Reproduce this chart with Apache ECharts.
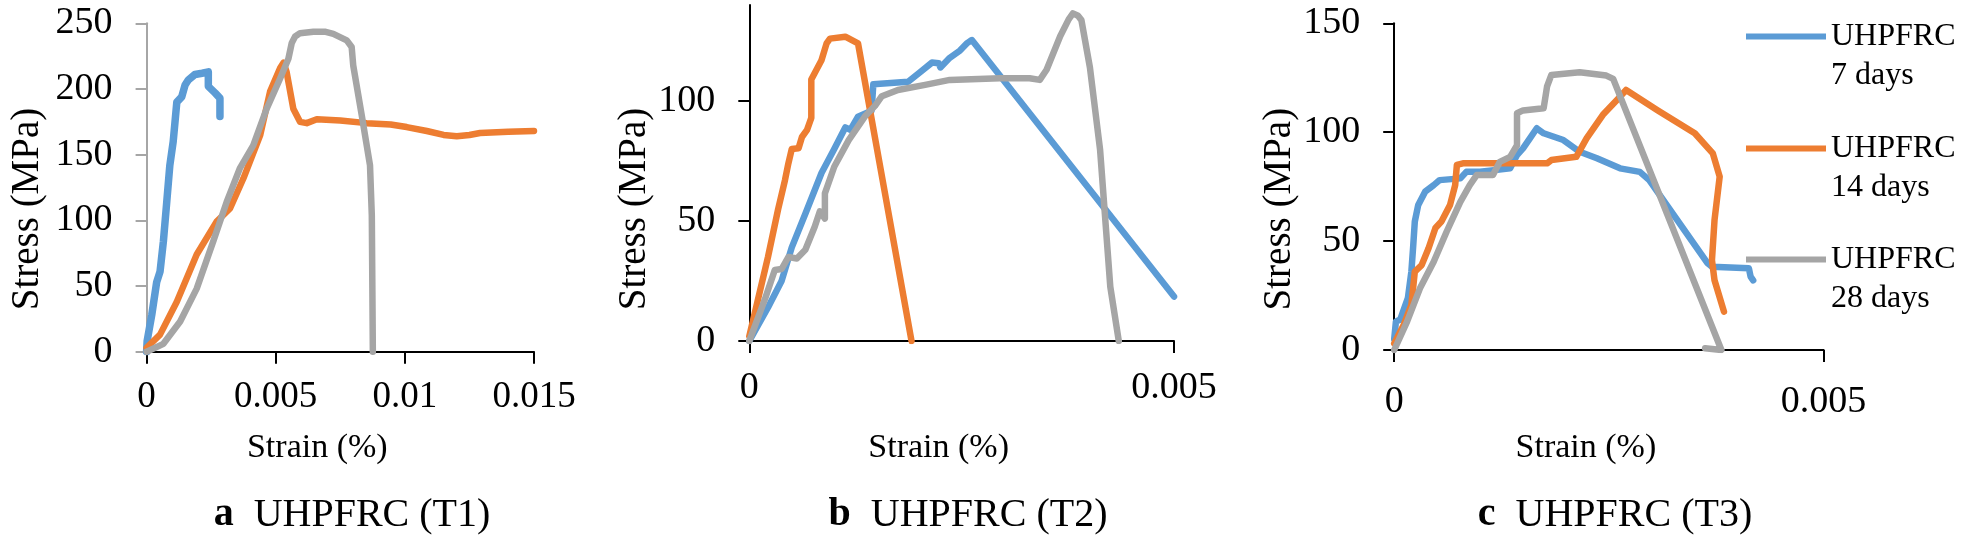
<!DOCTYPE html>
<html><head><meta charset="utf-8">
<script src="https://cdn.jsdelivr.net/npm/echarts@6/dist/echarts.min.js"></script>
<style>html,body{margin:0;padding:0;background:#fff}#c{width:1961px;height:545px}</style>
</head><body><div id="c"></div><script>
// ---------- data (strain %, stress MPa) ----------
const seriesNames = ['UHPFRC\n7 days', 'UHPFRC\n14 days', 'UHPFRC\n28 days'];
const panelCaptions = [['a', 'UHPFRC (T1)'], ['b', 'UHPFRC (T2)'], ['c', 'UHPFRC (T3)']];
const xTitle = 'Strain (%)';
const yTitle = 'Stress (MPa)';

const t1_7d = [[0,0],[0.00002,8],[0.0002,28],[0.00039,53],[0.00052,61],[0.00065,84],[0.00078,114],[0.0009,142],[0.00103,160],[0.0011,175],[0.00117,190],[0.00136,194],[0.00149,203],[0.00162,207],[0.00187,211],[0.00215,212],[0.00239,213],[0.00239,202],[0.00265,197],[0.00284,193],[0.00284,179]];
const t1_14d = [[0,3],[0.00052,13],[0.00117,38],[0.00194,74],[0.00271,99],[0.00323,109],[0.00375,132],[0.0044,165],[0.00478,198],[0.00517,216],[0.0053,220],[0.00542,213],[0.00568,185],[0.00594,175],[0.0062,174],[0.00659,177],[0.0075,176],[0.00852,174],[0.00945,173],[0.01007,171],[0.01085,168],[0.0115,165],[0.01201,164],[0.0125,165],[0.01291,166.5],[0.014,167.5],[0.015,168]];
const t1_28d = [[0,0],[0.00065,6],[0.0013,23],[0.00194,48],[0.00258,84],[0.0031,114],[0.00362,140],[0.00413,157],[0.00465,185],[0.00517,208],[0.00549,223],[0.00562,235],[0.00575,240],[0.00594,242.5],[0.00646,243.6],[0.0069,243.6],[0.00723,242],[0.00775,237],[0.00794,232],[0.008,218],[0.00833,180],[0.00865,142],[0.00872,104],[0.00876,0]];

const t2_7d = [[0,0],[0.00022,14],[0.00038,25],[0.0005,39],[0.00066,53],[0.00085,70],[0.001,80],[0.00113,89],[0.00119,88],[0.00128,93.5],[0.00144,96],[0.00146,107],[0.00187,108],[0.00201,112],[0.00215,116],[0.00223,115.7],[0.00225,114],[0.00236,118],[0.00248,121],[0.00256,124],[0.00262,125.4],[0.005,18.5]];
const t2_14d = [[0,2],[0.0001,17],[0.00022,35],[0.00034,55],[0.00042,67],[0.00046,74],[0.0005,80],[0.00058,80.3],[0.00062,85],[0.00068,88],[0.00073,93],[0.00073,109],[0.00085,117],[0.00091,124],[0.00095,126],[0.00113,126.8],[0.00128,124],[0.00191,0]];
const t2_28d = [[0,0],[0.00018,17],[0.0003,29.6],[0.00038,30],[0.00046,35],[0.00056,34.4],[0.00066,38],[0.00077,47.6],[0.00083,54],[0.00089,51],[0.00089,61.5],[0.001,72.6],[0.00117,83.7],[0.00136,93.5],[0.00148,98],[0.00156,102],[0.00175,104.6],[0.00207,106.7],[0.00236,108.8],[0.00295,109.5],[0.0033,109.5],[0.00342,108.8],[0.0035,113],[0.00366,127],[0.00376,134],[0.00381,136.5],[0.00387,135.5],[0.00391,133.7],[0.00401,114],[0.00413,79.6],[0.00425,22.6],[0.00435,0]];

const t3_7d = [[0,5],[0.00002,13],[0.00007,14],[0.00016,24],[0.0002,36],[0.00022,47],[0.00024,59],[0.00028,66.6],[0.00036,72.7],[0.00046,75.7],[0.00053,78],[0.00077,78.8],[0.00084,81.8],[0.001,81.8],[0.00135,83.4],[0.00143,89.5],[0.0015,92.6],[0.00158,97.2],[0.00166,101.8],[0.00174,99.5],[0.00197,96.4],[0.00216,91],[0.00236,88],[0.00263,83.4],[0.00286,81.8],[0.00297,78],[0.00365,39.8],[0.0037,38.2],[0.00413,37.5],[0.00415,33.7],[0.00418,32]];
const t3_14d = [[0,3],[0.00011,11.5],[0.0002,20.7],[0.00024,36],[0.00032,39],[0.0004,46.7],[0.00048,56],[0.00055,59],[0.00065,66.6],[0.00071,75.7],[0.00073,85],[0.0008,85.7],[0.00178,85.7],[0.00183,87.2],[0.00212,88.7],[0.00224,97.2],[0.00243,108],[0.00261,115.5],[0.0027,119.4],[0.00307,110],[0.0035,99.5],[0.00371,90.3],[0.00379,79.6],[0.00373,59.7],[0.0037,41.3],[0.00373,32],[0.00384,17.6]];
const t3_28d = [[0,0],[0.00015,13],[0.0003,28.3],[0.00046,40.5],[0.00061,54.3],[0.00077,68],[0.00088,75.7],[0.00096,80.3],[0.00115,80.3],[0.00123,86.4],[0.00135,88.7],[0.00143,94],[0.00143,108.7],[0.0015,110],[0.00174,111],[0.00178,121],[0.00183,126.3],[0.00216,127.5],[0.00247,126],[0.00255,124.5],[0.00381,0],[0.00362,0.8]];

const xMax = [0.015, 0.005, 0.005];
const xInterval = 0.005;
const yMax = [250, 140, 150];
const yInterval = 50;
const yTickValues = [[0,50,100,150,200,250],[0,50,100],[0,50,100,150]];

// ---------- layout / style ----------
const FONT = '"Liberation Serif", "Times New Roman", serif';
const COLORS = ['#5B9BD5', '#ED7D31', '#A5A5A5'];
const panelData = [[t1_7d, t1_14d, t1_28d], [t2_7d, t2_14d, t2_28d], [t3_7d, t3_14d, t3_28d]];

const grids = [
  {left: 146.6, top: 23.3, width: 387.4, height: 328.4},
  {left: 749.3, top: 5.0, width: 424.7, height: 336},
  {left: 1394.2, top: 23.3, width: 429.4, height: 326.7}
];
const yAxisColor = ['#A6A6A6', '#000', '#000'];
const xLabelMargin = [27, 28, 33];
const xLabelSize = [37, 38, 38];
const yLabelSize = [38, 38, 38];
const xNameGap = [79, 90, 81];
const yNameGap = [99, 83, 72];
const yNamePad = [43, 72, 45];
const captionX = [347, 963, 1610];

function fmt(v) { return String(+v.toFixed(4)); }

const xAxes = [], yAxes = [], series = [], titles = [];
for (let i = 0; i < 3; i++) {
  xAxes.push({
    type: 'value', gridIndex: i, min: 0, max: xMax[i], interval: xInterval,
    splitLine: {show: false},
    axisLine: {lineStyle: {color: '#000', width: 2}},
    axisTick: {inside: false, length: 12, lineStyle: {color: '#000', width: 2}},
    axisLabel: {formatter: fmt, margin: xLabelMargin[i], fontFamily: FONT, fontSize: xLabelSize[i], color: '#000',
      showMinLabel: true, showMaxLabel: true},
    name: xTitle, nameLocation: 'middle', nameGap: xNameGap[i],
    nameTextStyle: {fontFamily: FONT, fontSize: 34, color: '#000', padding: [0, 46, 0, 0]}
  });
  yAxes.push({
    type: 'value', gridIndex: i, min: 0, max: yMax[i], interval: yInterval,
    splitLine: {show: false},
    axisLine: {show: true, lineStyle: {color: yAxisColor[i], width: 2}},
    axisTick: {show: true, inside: false, length: 11, customValues: yTickValues[i], lineStyle: {color: yAxisColor[i], width: 2}},
    axisLabel: {margin: 34, fontFamily: FONT, fontSize: yLabelSize[i], color: '#000', customValues: yTickValues[i]},
    name: yTitle, nameLocation: 'middle', nameGap: yNameGap[i],
    nameTextStyle: {fontFamily: FONT, fontSize: 39, color: '#000', padding: [0, yNamePad[i], 0, 0]}
  });
  for (let s = 0; s < 3; s++) {
    series.push({
      type: 'line', name: seriesNames[s], xAxisIndex: i, yAxisIndex: i,
      data: panelData[i][s], showSymbol: false, symbol: 'none', smooth: false,
      color: COLORS[s],
      lineStyle: {color: COLORS[s], width: (i === 0 && s === 0) ? 7.5 : 6.5, cap: 'round', join: 'round'},
      animation: false
    });
  }
  titles.push({
    text: '{b|' + panelCaptions[i][0] + '}  ' + panelCaptions[i][1],
    left: captionX[i], top: 490, textAlign: 'center',
    textStyle: {fontFamily: FONT, fontSize: 40, fontWeight: 'normal', color: '#000',
      rich: {b: {fontFamily: FONT, fontSize: 40, fontWeight: 'bold', color: '#000'}}}
  });
}

const legendTops = [-22, 90, 201];
const legends = seriesNames.map((n, k) => ({
  data: [n], left: 1746, top: legendTops[k], orient: 'vertical',
  icon: 'rect', itemWidth: 80, itemHeight: 6, itemGap: 0, padding: 0,
  selectedMode: false,
  formatter: name => '\n' + name,
  textStyle: {fontFamily: FONT, fontSize: 32, color: '#000', lineHeight: 39}
}));

const chart = echarts.init(document.getElementById('c'), null, {renderer: 'canvas'});
chart.setOption({
  backgroundColor: '#fff',
  animation: false,
  title: titles,
  legend: legends,
  grid: grids,
  xAxis: xAxes,
  yAxis: yAxes,
  series: series
});
</script></body></html>
